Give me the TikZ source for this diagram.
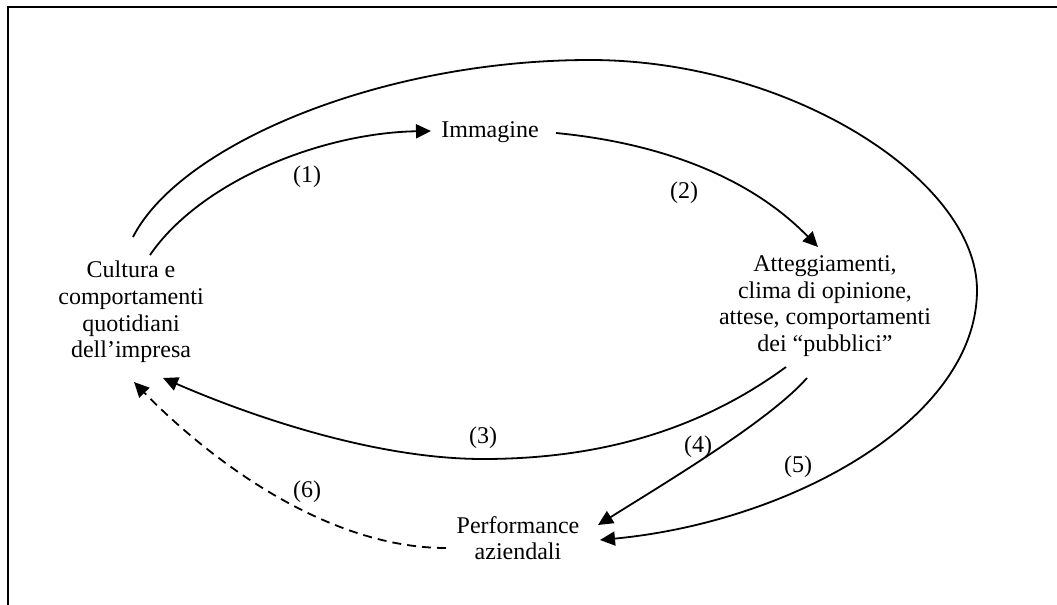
\documentclass[tikz,border=0pt]{standalone}
\usepackage{fontspec}
\setmainfont{Liberation Serif}
\usetikzlibrary{arrows.meta}
\begin{document}
\begin{tikzpicture}[x=0.5pt,y=-0.5pt,
  txt/.style={align=center,font=\fontsize{12}{13.3}\selectfont,inner sep=0pt},
  lbl/.style={font=\fontsize{12}{13.3}\selectfont,inner sep=0pt},
  link/.style={line width=0.9pt,-{Triangle[length=7.5pt,width=7pt]}},
  weak/.style={link,dash pattern=on 4.5pt off 3pt}]
\useasboundingbox (0,0) rectangle (1057,605);
% frame (top and left edges)
\draw[line width=1pt] (8,610) -- (8,7) -- (1062,7);

% concepts
\node[txt] (cult) at (131,312) {Cultura e\\comportamenti\\quotidiani\\dell’impresa};
\node[txt,anchor=base] (imm) at (490,137) {Immagine};
\node[txt] (att) at (825,306) {Atteggiamenti,\\clima di opinione,\\attese, comportamenti\\dei “pubblici”};
\node[txt] (perf) at (518,538) {Performance\\aziendali};

% connector ends around each concept
\coordinate (cult-out) at (133,237);
\coordinate (cult-up)  at (150,255);
\coordinate (cult-in)  at (163,378);
\coordinate (cult-fb)  at (134,382);
\coordinate (imm-in)   at (431,131);
\coordinate (imm-out)  at (556,133);
\coordinate (att-in)   at (818,247);
\coordinate (att-back) at (786,367);
\coordinate (att-down) at (807,378);
\coordinate (perf-in4) at (598,525);
\coordinate (perf-in5) at (600,540);
\coordinate (perf-out) at (446,548);

% (1) culture -> image
\draw[link] (cult-up) .. controls (200,182) and (320,133) .. (imm-in);
% (2) image -> attitudes
\draw[link] (imm-out) .. controls (650,142) and (745,172) .. (att-in);
% (3) attitudes -> culture
\draw[link] (att-back) .. controls (700,430) and (600,459) .. (483,459)
  .. controls (380,459) and (260,420) .. (cult-in);
% (4) attitudes -> performance
\draw[link] (att-down) .. controls (770,420) and (670,480) .. (perf-in4);
% (5) culture -> performance, around the whole cycle
\draw[link] (cult-out) .. controls (180,145) and (380,60) .. (590,60)
  .. controls (790,60) and (977,180) .. (977,290)
  .. controls (977,420) and (790,522) .. (perf-in5);
% (6) performance -> culture
\draw[weak] (perf-out) .. controls (320,548) and (200,450) .. (cult-fb);

% step labels
\node[lbl] (l1) at (307,177) {(1)};
\node[lbl] (l2) at (684,193) {(2)};
\node[lbl] (l3) at (483,438) {(3)};
\node[lbl] (l4) at (698,447) {(4)};
\node[lbl] (l5) at (798,467) {(5)};
\node[lbl] (l6) at (307,492) {(6)};
\end{tikzpicture}
\end{document}
